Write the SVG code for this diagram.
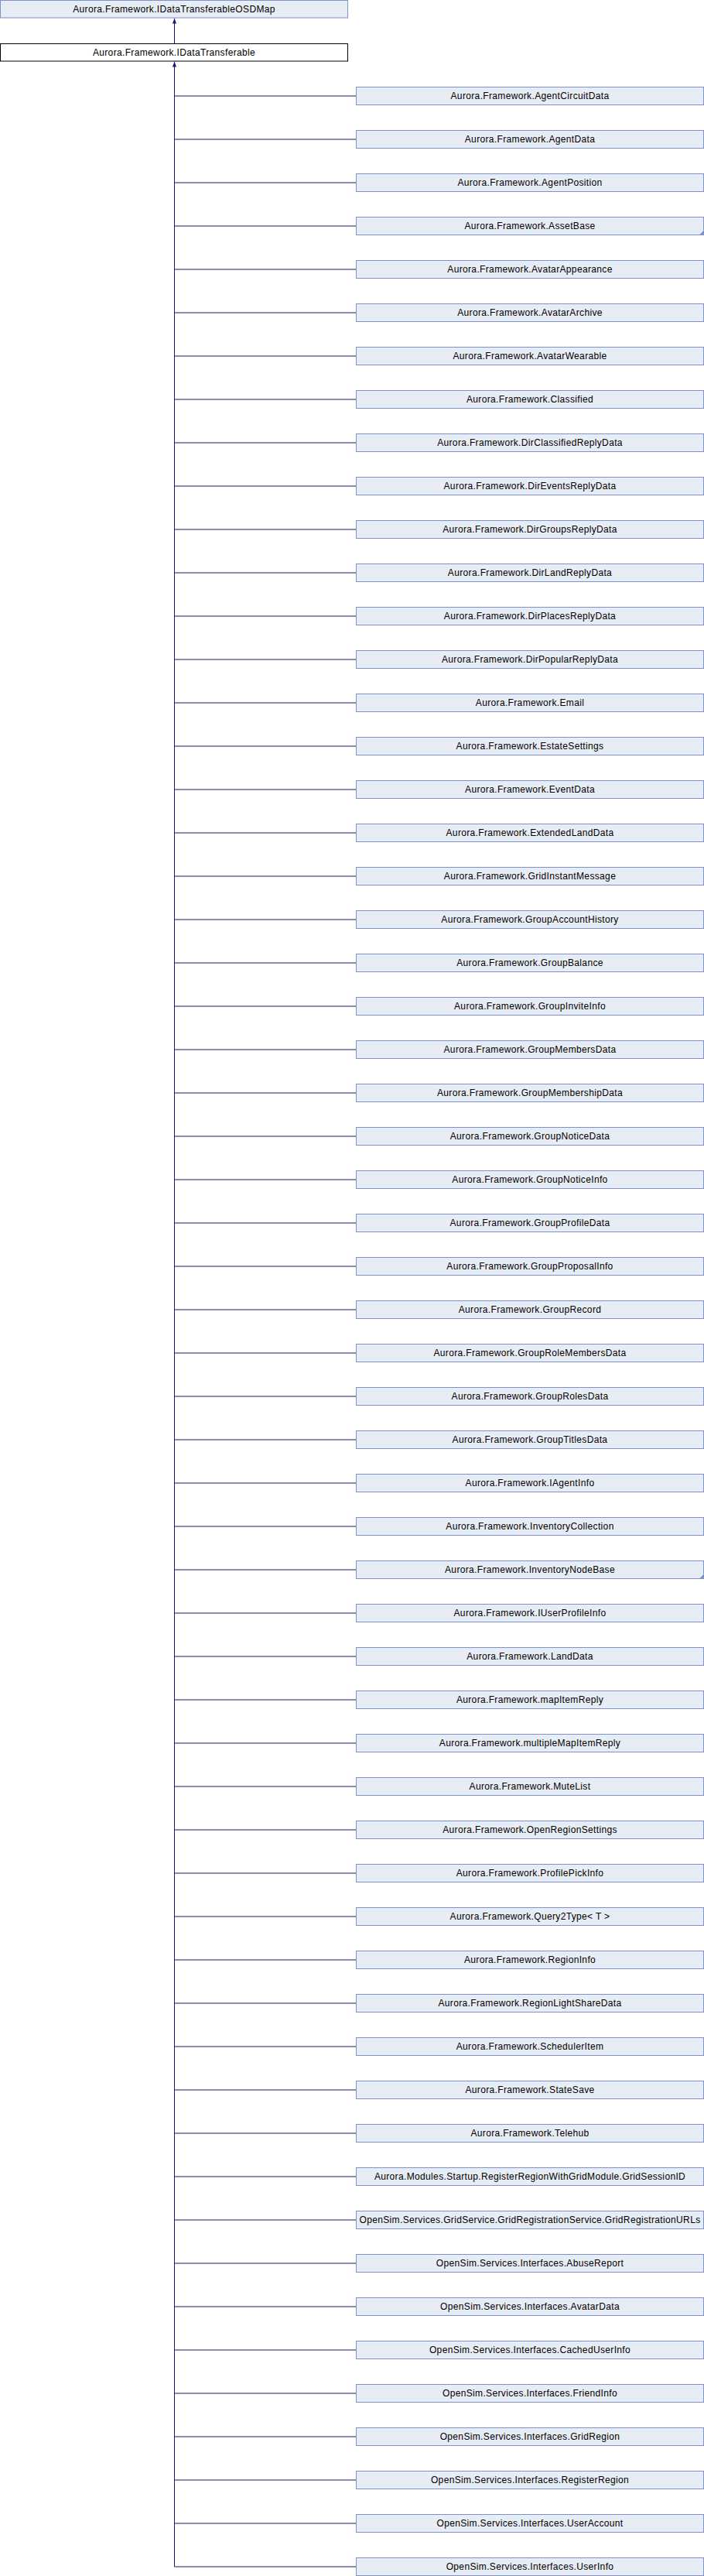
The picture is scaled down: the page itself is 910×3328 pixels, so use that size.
<svg xmlns="http://www.w3.org/2000/svg" width="910" height="3328" viewBox="0 0 910 3328">
<style>
.n rect{fill:#e8ecf5;stroke:#7b93c9;stroke-width:1}
.cur rect{fill:#ffffff;stroke:#000000;stroke-width:1}
text{font-family:"Liberation Sans",Arial,sans-serif;font-size:12px;letter-spacing:0.35px;fill:#000;text-anchor:middle}
.e{fill:none;stroke:#191970;stroke-width:1}
.mk{fill:#7b93c9}
</style>
<defs>
<marker id="ah" markerUnits="userSpaceOnUse" markerWidth="7" markerHeight="6" viewBox="0 0 7 6" refX="7" refY="3" orient="auto"><path d="M0,0.5 L7,3 L0,5.5 z" fill="#191970"/></marker>
</defs>
<rect width="910" height="3328" fill="#ffffff"/>
<g id="connectors">
<path class="e" d="M225.5,56 V23.5" marker-end="url(#ah)"/>
<path class="e" d="M225.5,3316 V79.5" marker-end="url(#ah)"/>
<path class="e" d="M225.5,124H460.5M225.5,180H460.5M225.5,236H460.5M225.5,292H460.5M225.5,348H460.5M225.5,404H460.5M225.5,460H460.5M225.5,516H460.5M225.5,572H460.5M225.5,628H460.5M225.5,684H460.5M225.5,740H460.5M225.5,796H460.5M225.5,852H460.5M225.5,908H460.5M225.5,964H460.5M225.5,1020H460.5M225.5,1076H460.5M225.5,1132H460.5M225.5,1188H460.5M225.5,1244H460.5M225.5,1300H460.5M225.5,1356H460.5M225.5,1412H460.5M225.5,1468H460.5M225.5,1524H460.5M225.5,1580H460.5M225.5,1636H460.5M225.5,1692H460.5M225.5,1748H460.5M225.5,1804H460.5M225.5,1860H460.5M225.5,1916H460.5M225.5,1972H460.5M225.5,2028H460.5M225.5,2084H460.5M225.5,2140H460.5M225.5,2196H460.5M225.5,2252H460.5M225.5,2308H460.5M225.5,2364H460.5M225.5,2420H460.5M225.5,2476H460.5M225.5,2532H460.5M225.5,2588H460.5M225.5,2644H460.5M225.5,2700H460.5M225.5,2756H460.5M225.5,2812H460.5M225.5,2868H460.5M225.5,2924H460.5M225.5,2980H460.5M225.5,3036H460.5M225.5,3092H460.5M225.5,3148H460.5M225.5,3204H460.5M225.5,3260H460.5M225.5,3316H460.5"/>
</g>
<g id="IDataTransferableOSDMap" class="n"><rect x="0.5" y="0.5" width="449" height="22.5"/><text x="225" y="15.5">Aurora.Framework.IDataTransferableOSDMap</text></g>
<g id="IDataTransferable" class="cur"><rect x="0.5" y="56.5" width="449" height="22.5"/><text x="225" y="71.5">Aurora.Framework.IDataTransferable</text></g>
<g id="AgentCircuitData" class="n"><rect x="460.5" y="112.5" width="449" height="23"/><text x="685" y="127.5">Aurora.Framework.AgentCircuitData</text></g>
<g id="AgentData" class="n"><rect x="460.5" y="168.5" width="449" height="23"/><text x="685" y="183.5">Aurora.Framework.AgentData</text></g>
<g id="AgentPosition" class="n"><rect x="460.5" y="224.5" width="449" height="23"/><text x="685" y="239.5">Aurora.Framework.AgentPosition</text></g>
<g id="AssetBase" class="n"><rect x="460.5" y="280.5" width="449" height="23"/><text x="685" y="295.5">Aurora.Framework.AssetBase</text><polygon class="mk" points="909.5,298 909.5,303.5 904,303.5"/></g>
<g id="AvatarAppearance" class="n"><rect x="460.5" y="336.5" width="449" height="23"/><text x="685" y="351.5">Aurora.Framework.AvatarAppearance</text></g>
<g id="AvatarArchive" class="n"><rect x="460.5" y="392.5" width="449" height="23"/><text x="685" y="407.5">Aurora.Framework.AvatarArchive</text></g>
<g id="AvatarWearable" class="n"><rect x="460.5" y="448.5" width="449" height="23"/><text x="685" y="463.5">Aurora.Framework.AvatarWearable</text></g>
<g id="Classified" class="n"><rect x="460.5" y="504.5" width="449" height="23"/><text x="685" y="519.5">Aurora.Framework.Classified</text></g>
<g id="DirClassifiedReplyData" class="n"><rect x="460.5" y="560.5" width="449" height="23"/><text x="685" y="575.5">Aurora.Framework.DirClassifiedReplyData</text></g>
<g id="DirEventsReplyData" class="n"><rect x="460.5" y="616.5" width="449" height="23"/><text x="685" y="631.5">Aurora.Framework.DirEventsReplyData</text></g>
<g id="DirGroupsReplyData" class="n"><rect x="460.5" y="672.5" width="449" height="23"/><text x="685" y="687.5">Aurora.Framework.DirGroupsReplyData</text></g>
<g id="DirLandReplyData" class="n"><rect x="460.5" y="728.5" width="449" height="23"/><text x="685" y="743.5">Aurora.Framework.DirLandReplyData</text></g>
<g id="DirPlacesReplyData" class="n"><rect x="460.5" y="784.5" width="449" height="23"/><text x="685" y="799.5">Aurora.Framework.DirPlacesReplyData</text></g>
<g id="DirPopularReplyData" class="n"><rect x="460.5" y="840.5" width="449" height="23"/><text x="685" y="855.5">Aurora.Framework.DirPopularReplyData</text></g>
<g id="Email" class="n"><rect x="460.5" y="896.5" width="449" height="23"/><text x="685" y="911.5">Aurora.Framework.Email</text></g>
<g id="EstateSettings" class="n"><rect x="460.5" y="952.5" width="449" height="23"/><text x="685" y="967.5">Aurora.Framework.EstateSettings</text></g>
<g id="EventData" class="n"><rect x="460.5" y="1008.5" width="449" height="23"/><text x="685" y="1023.5">Aurora.Framework.EventData</text></g>
<g id="ExtendedLandData" class="n"><rect x="460.5" y="1064.5" width="449" height="23"/><text x="685" y="1079.5">Aurora.Framework.ExtendedLandData</text></g>
<g id="GridInstantMessage" class="n"><rect x="460.5" y="1120.5" width="449" height="23"/><text x="685" y="1135.5">Aurora.Framework.GridInstantMessage</text></g>
<g id="GroupAccountHistory" class="n"><rect x="460.5" y="1176.5" width="449" height="23"/><text x="685" y="1191.5">Aurora.Framework.GroupAccountHistory</text></g>
<g id="GroupBalance" class="n"><rect x="460.5" y="1232.5" width="449" height="23"/><text x="685" y="1247.5">Aurora.Framework.GroupBalance</text></g>
<g id="GroupInviteInfo" class="n"><rect x="460.5" y="1288.5" width="449" height="23"/><text x="685" y="1303.5">Aurora.Framework.GroupInviteInfo</text></g>
<g id="GroupMembersData" class="n"><rect x="460.5" y="1344.5" width="449" height="23"/><text x="685" y="1359.5">Aurora.Framework.GroupMembersData</text></g>
<g id="GroupMembershipData" class="n"><rect x="460.5" y="1400.5" width="449" height="23"/><text x="685" y="1415.5">Aurora.Framework.GroupMembershipData</text></g>
<g id="GroupNoticeData" class="n"><rect x="460.5" y="1456.5" width="449" height="23"/><text x="685" y="1471.5">Aurora.Framework.GroupNoticeData</text></g>
<g id="GroupNoticeInfo" class="n"><rect x="460.5" y="1512.5" width="449" height="23"/><text x="685" y="1527.5">Aurora.Framework.GroupNoticeInfo</text></g>
<g id="GroupProfileData" class="n"><rect x="460.5" y="1568.5" width="449" height="23"/><text x="685" y="1583.5">Aurora.Framework.GroupProfileData</text></g>
<g id="GroupProposalInfo" class="n"><rect x="460.5" y="1624.5" width="449" height="23"/><text x="685" y="1639.5">Aurora.Framework.GroupProposalInfo</text></g>
<g id="GroupRecord" class="n"><rect x="460.5" y="1680.5" width="449" height="23"/><text x="685" y="1695.5">Aurora.Framework.GroupRecord</text></g>
<g id="GroupRoleMembersData" class="n"><rect x="460.5" y="1736.5" width="449" height="23"/><text x="685" y="1751.5">Aurora.Framework.GroupRoleMembersData</text></g>
<g id="GroupRolesData" class="n"><rect x="460.5" y="1792.5" width="449" height="23"/><text x="685" y="1807.5">Aurora.Framework.GroupRolesData</text></g>
<g id="GroupTitlesData" class="n"><rect x="460.5" y="1848.5" width="449" height="23"/><text x="685" y="1863.5">Aurora.Framework.GroupTitlesData</text></g>
<g id="IAgentInfo" class="n"><rect x="460.5" y="1904.5" width="449" height="23"/><text x="685" y="1919.5">Aurora.Framework.IAgentInfo</text></g>
<g id="InventoryCollection" class="n"><rect x="460.5" y="1960.5" width="449" height="23"/><text x="685" y="1975.5">Aurora.Framework.InventoryCollection</text></g>
<g id="InventoryNodeBase" class="n"><rect x="460.5" y="2016.5" width="449" height="23"/><text x="685" y="2031.5">Aurora.Framework.InventoryNodeBase</text><polygon class="mk" points="909.5,2034 909.5,2039.5 904,2039.5"/></g>
<g id="IUserProfileInfo" class="n"><rect x="460.5" y="2072.5" width="449" height="23"/><text x="685" y="2087.5">Aurora.Framework.IUserProfileInfo</text></g>
<g id="LandData" class="n"><rect x="460.5" y="2128.5" width="449" height="23"/><text x="685" y="2143.5">Aurora.Framework.LandData</text></g>
<g id="mapItemReply" class="n"><rect x="460.5" y="2184.5" width="449" height="23"/><text x="685" y="2199.5">Aurora.Framework.mapItemReply</text></g>
<g id="multipleMapItemReply" class="n"><rect x="460.5" y="2240.5" width="449" height="23"/><text x="685" y="2255.5">Aurora.Framework.multipleMapItemReply</text></g>
<g id="MuteList" class="n"><rect x="460.5" y="2296.5" width="449" height="23"/><text x="685" y="2311.5">Aurora.Framework.MuteList</text></g>
<g id="OpenRegionSettings" class="n"><rect x="460.5" y="2352.5" width="449" height="23"/><text x="685" y="2367.5">Aurora.Framework.OpenRegionSettings</text></g>
<g id="ProfilePickInfo" class="n"><rect x="460.5" y="2408.5" width="449" height="23"/><text x="685" y="2423.5">Aurora.Framework.ProfilePickInfo</text></g>
<g id="Query2Type" class="n"><rect x="460.5" y="2464.5" width="449" height="23"/><text x="685" y="2479.5">Aurora.Framework.Query2Type&lt; T &gt;</text></g>
<g id="RegionInfo" class="n"><rect x="460.5" y="2520.5" width="449" height="23"/><text x="685" y="2535.5">Aurora.Framework.RegionInfo</text></g>
<g id="RegionLightShareData" class="n"><rect x="460.5" y="2576.5" width="449" height="23"/><text x="685" y="2591.5">Aurora.Framework.RegionLightShareData</text></g>
<g id="SchedulerItem" class="n"><rect x="460.5" y="2632.5" width="449" height="23"/><text x="685" y="2647.5">Aurora.Framework.SchedulerItem</text></g>
<g id="StateSave" class="n"><rect x="460.5" y="2688.5" width="449" height="23"/><text x="685" y="2703.5">Aurora.Framework.StateSave</text></g>
<g id="Telehub" class="n"><rect x="460.5" y="2744.5" width="449" height="23"/><text x="685" y="2759.5">Aurora.Framework.Telehub</text></g>
<g id="GridSessionID" class="n"><rect x="460.5" y="2800.5" width="449" height="23"/><text x="685" y="2815.5">Aurora.Modules.Startup.RegisterRegionWithGridModule.GridSessionID</text></g>
<g id="GridRegistrationURLs" class="n"><rect x="460.5" y="2856.5" width="449" height="23"/><text x="685" y="2871.5">OpenSim.Services.GridService.GridRegistrationService.GridRegistrationURLs</text></g>
<g id="AbuseReport" class="n"><rect x="460.5" y="2912.5" width="449" height="23"/><text x="685" y="2927.5">OpenSim.Services.Interfaces.AbuseReport</text></g>
<g id="AvatarDataOS" class="n"><rect x="460.5" y="2968.5" width="449" height="23"/><text x="685" y="2983.5">OpenSim.Services.Interfaces.AvatarData</text></g>
<g id="CachedUserInfo" class="n"><rect x="460.5" y="3024.5" width="449" height="23"/><text x="685" y="3039.5">OpenSim.Services.Interfaces.CachedUserInfo</text></g>
<g id="FriendInfo" class="n"><rect x="460.5" y="3080.5" width="449" height="23"/><text x="685" y="3095.5">OpenSim.Services.Interfaces.FriendInfo</text></g>
<g id="GridRegion" class="n"><rect x="460.5" y="3136.5" width="449" height="23"/><text x="685" y="3151.5">OpenSim.Services.Interfaces.GridRegion</text></g>
<g id="RegisterRegion" class="n"><rect x="460.5" y="3192.5" width="449" height="23"/><text x="685" y="3207.5">OpenSim.Services.Interfaces.RegisterRegion</text></g>
<g id="UserAccount" class="n"><rect x="460.5" y="3248.5" width="449" height="23"/><text x="685" y="3263.5">OpenSim.Services.Interfaces.UserAccount</text></g>
<g id="UserInfo" class="n"><rect x="460.5" y="3304.5" width="449" height="23"/><text x="685" y="3319.5">OpenSim.Services.Interfaces.UserInfo</text></g>
</svg>
